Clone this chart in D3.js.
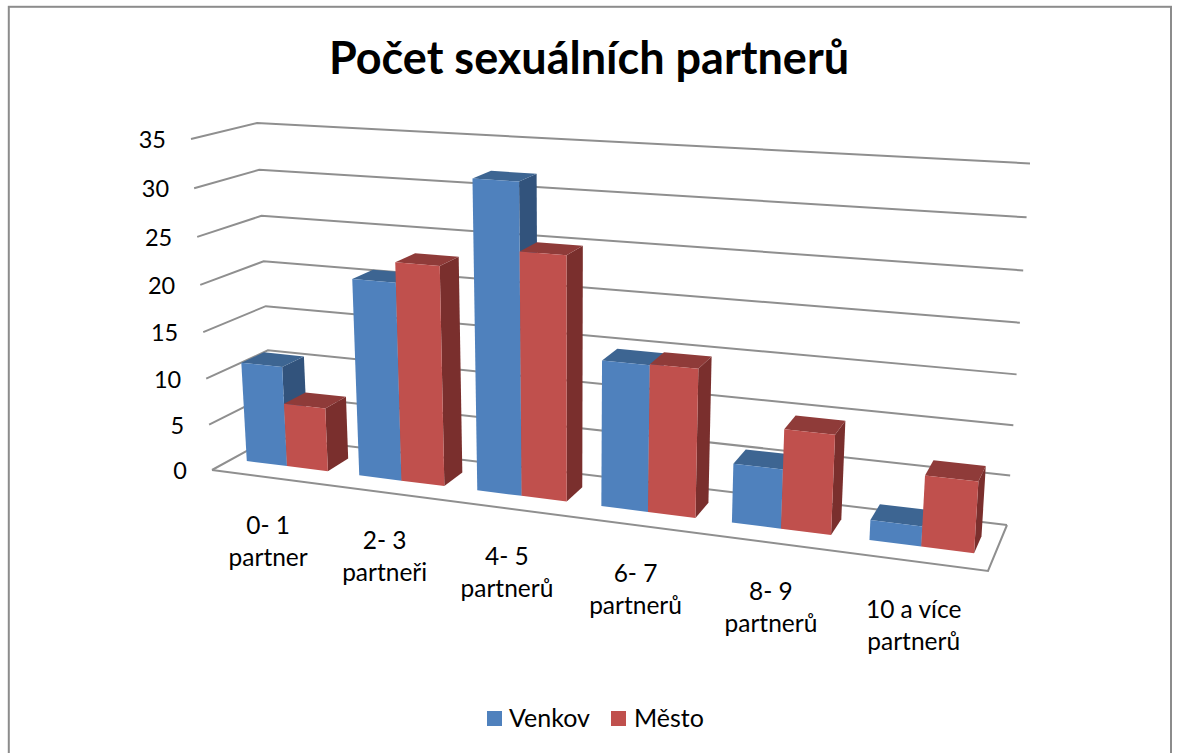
<!DOCTYPE html>
<html><head><meta charset="utf-8">
<style>html,body{margin:0;padding:0;background:#fff}svg{display:block}text{font-family:Lato,"Open Sans",sans-serif;fill:#000}</style>
<script src="https://cdn.jsdelivr.net/npm/d3@7/dist/d3.min.js"></script>
</head><body><svg id="c" width="1177" height="753"></svg>
<script>
const title = "Počet sexuálních partnerů";
const categories = [["0- 1","partner"],["2- 3","partneři"],["4- 5","partnerů"],["6- 7","partnerů"],["8- 9","partnerů"],["10 a více","partnerů"]];
const seriesNames = ["Venkov","Město"];
const venkov = [10.9,21,32.1,15,6,2];
const mesto = [6.9,23.1,25.2,15.1,10,7];
const tickValues = [0,5,10,15,20,25,30,35];
const colFront = ["#4F81BD","#C0504D"], colTop = ["#3D6592","#8F3B39"], colSide = ["#32537C","#7A2F2D"];

const svg = d3.select("#c");
// Corners of the projected 3D plot box
const box = {fl0:[212,470],fl1:[191,139],bl0:[272,437],bl1:[257,123],
             fr0:[988,571],fr1:[1012,190],br0:[1007,525],br1:[1030,163.5]};
const yS = d3.scaleLinear().domain([0,35]).range([0,1]);
const persp = 1.165, perspY = 1.05;
const warp = (u,k) => u/(u+k*(1-u));
const lerp = (a,b,t)=>[a[0]+(b[0]-a[0])*t,a[1]+(b[1]-a[1])*t];
function P(u,val,w){
  const t=warp(u,persp), h=warp(yS(val),perspY);
  const f0=lerp(box.fl0,box.fr0,t), f1=lerp(box.fl1,box.fr1,t),
        b0=lerp(box.bl0,box.br0,t), b1=lerp(box.bl1,box.br1,t);
  return lerp(lerp(f0,f1,h),lerp(b0,b1,h),w);
}
const poly = pts => d3.line()(pts)+"Z";

// frame
svg.append("rect").attr("x",8.8).attr("y",6.8).attr("width",1162.2).attr("height",770).attr("fill","#fff").attr("stroke","#8c8c8c").attr("stroke-width",2);

// gridlines
const grid = svg.append("g").attr("fill","none").attr("stroke","#8f8f8f").attr("stroke-width",2);
tickValues.forEach(v=>{
  grid.append("path").attr("d",d3.line()([P(0,v,0),P(0,v,1),P(1,v,1)]));
});
grid.append("path").attr("d",d3.line()([P(0,0,0),P(1,0,0),P(1,0,1)]));

// bars
const band = d3.scaleBand().domain(d3.range(categories.length)).range([0,1]).paddingInner(.274).paddingOuter(.137);
const sub = d3.scaleBand().domain([0,1]).range([0,band.bandwidth()]);
const w0=.33,w1=.70;
const barsG = svg.append("g");
categories.forEach((c,i)=>{
  [venkov[i],mesto[i]].forEach((v,s)=>{
    const a=band(i)+sub(s), b=a+sub.bandwidth();
    const g=barsG.append("g");
    g.append("path").attr("d",poly([P(b,0,w0),P(b,0,w1),P(b,v,w1),P(b,v,w0)])).attr("fill",colSide[s]);
    g.append("path").attr("d",poly([P(a,v,w0),P(b,v,w0),P(b,v,w1),P(a,v,w1)])).attr("fill",colTop[s]);
    g.append("path").attr("d",poly([P(a,0,w0),P(b,0,w0),P(b,v,w0),P(a,v,w0)])).attr("fill",colFront[s]);
  });
});

// value axis labels
tickValues.forEach(v=>{
  const p=P(0,v,0);
  svg.append("text").attr("x",p[0]-25).attr("y",p[1]+9).attr("text-anchor","end").attr("font-size",23.5).text(v);
});
// category labels
categories.forEach((c,i)=>{
  const p=P(band(i)+band.bandwidth()/2,0,0);
  c.forEach((l,j)=>svg.append("text").attr("x",p[0]).attr("y",p[1]+57+j*32).attr("text-anchor","middle").attr("font-size",24.5).text(l));
});
// title
svg.append("text").attr("x",589).attr("y",74).attr("text-anchor","middle").attr("font-size",45).attr("font-weight",700).text(title);
// legend
const legX=[487,611], legT=[509,634];
seriesNames.forEach((n,i)=>{
  svg.append("rect").attr("x",legX[i]).attr("y",711).attr("width",15).attr("height",15).attr("fill",colFront[i]);
  svg.append("text").attr("x",legT[i]).attr("y",727).attr("font-size",25).text(n);
});
</script></body></html>
